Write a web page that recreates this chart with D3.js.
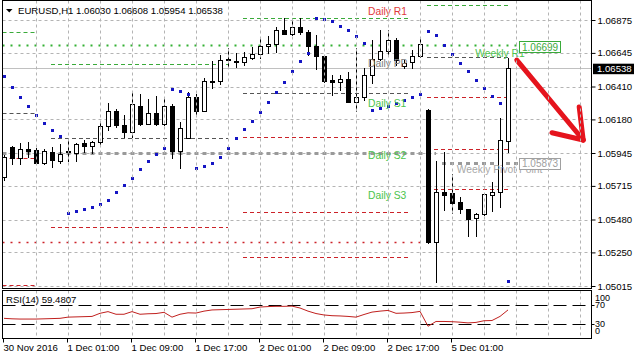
<!DOCTYPE html>
<html>
<head>
<meta charset="utf-8">
<title>EURUSD H1</title>
<script src="https://cdn.jsdelivr.net/npm/d3@7/dist/d3.min.js"></script>
<style>
  body { margin: 0; background: #fff; }
  svg { display: block; font-family: "Liberation Sans", Arial, sans-serif; }
</style>
</head>
<body>
<div id="chart"></div>
<script>
// H1 bars, 30 Nov 17:00 .. 5 Dec 08:00
var opens = [1.05777,1.05987,1.05910,1.05973,1.05966,1.05875,1.05952,1.05889,1.05952,1.05945,
  1.06015,1.05994,1.06022,1.06134,1.06239,1.06141,1.06092,1.06274,1.06148,1.06225,
  1.06148,1.06274,1.05959,1.06050,1.06336,1.06239,1.06448,1.06448,1.06602,1.06588,
  1.06581,1.06609,1.06637,1.06693,1.06707,1.06805,1.06777,1.06826,1.06791,1.06693,
  1.06623,1.06455,1.06441,1.06462,1.06302,1.06336,1.06490,1.06602,1.06658,1.06735,
  1.06553,1.06581,1.06623,1.06246,1.05323,1.05672,1.05665,1.05602,1.05553,1.05490,
  1.05518,1.05651,1.05672,1.06030];
var highs = [1.05931,1.05994,1.06015,1.06022,1.05980,1.05973,1.05987,1.06008,1.06036,1.06015,
  1.06036,1.06029,1.06169,1.06295,1.06253,1.06211,1.06371,1.06357,1.06322,1.06343,
  1.06322,1.06288,1.06162,1.06371,1.06357,1.06469,1.06588,1.06630,1.06679,1.06644,
  1.06651,1.06686,1.06756,1.06763,1.06826,1.06889,1.06875,1.06889,1.06805,1.06770,
  1.06630,1.06490,1.06490,1.06511,1.06679,1.06539,1.06735,1.06805,1.06805,1.06749,
  1.06595,1.06665,1.06749,1.06253,1.05889,1.05952,1.05798,1.05637,1.05553,1.05525,
  1.05658,1.05742,1.06190,1.06608];
var lows = [1.05756,1.05868,1.05868,1.05917,1.05868,1.05868,1.05847,1.05875,1.05889,1.05889,
  1.05952,1.05945,1.06001,1.06106,1.06127,1.06057,1.06057,1.06141,1.06148,1.06141,
  1.06141,1.05910,1.05840,1.06050,1.06211,1.06239,1.06399,1.06427,1.06546,1.06546,
  1.06560,1.06602,1.06609,1.06644,1.06651,1.06777,1.06770,1.06777,1.06630,1.06532,
  1.06441,1.06350,1.06385,1.06302,1.06239,1.06315,1.06434,1.06595,1.06630,1.06560,
  1.06539,1.06539,1.06616,1.05316,1.05043,1.05546,1.05525,1.05525,1.05364,1.05364,
  1.05511,1.05539,1.05567,1.05954];
var closes = [1.05917,1.05910,1.05973,1.05959,1.05875,1.05959,1.05896,1.05938,1.05959,1.06008,
  1.05994,1.06022,1.06134,1.06239,1.06141,1.06092,1.06288,1.06148,1.06225,1.06148,
  1.06274,1.05959,1.06120,1.06336,1.06239,1.06448,1.06441,1.06595,1.06595,1.06581,
  1.06616,1.06637,1.06693,1.06707,1.06805,1.06777,1.06826,1.06791,1.06693,1.06623,
  1.06448,1.06441,1.06462,1.06302,1.06336,1.06490,1.06602,1.06658,1.06735,1.06595,
  1.06574,1.06623,1.06707,1.05323,1.05672,1.05651,1.05595,1.05553,1.05483,1.05518,
  1.05658,1.05672,1.06036,1.06538];

// parabolic SAR
var sar = [1.06483,1.06406,1.06337,1.06274,1.06211,1.06155,1.06106,1.06064,1.05525,1.05539,
  1.05553,1.05567,1.05588,1.05616,1.05672,1.05721,1.05770,1.05833,1.05889,1.05938,
  1.05980,1.06392,1.06378,1.06357,1.05840,1.05854,1.05875,1.05917,1.05980,1.06050,
  1.06113,1.06169,1.06232,1.06302,1.06371,1.06441,1.06518,1.06588,1.06644,1.06889,
  1.06882,1.06868,1.06833,1.06805,1.06763,1.06714,1.06246,1.06260,1.06274,1.06295,
  1.06316,1.06337,1.06357,1.06798,1.06770,1.06700,1.06637,1.06574,1.06518,1.06455,
  1.06399,1.06344,1.06295,1.05050];

// RSI(14)
var rsi = [42,41,40.5,40.5,40.5,41,41.5,42,44.5,45,
  45.5,46,52.5,56,50.5,50.5,56,50.5,51.5,52,
  54.5,44.5,50.5,53.5,53,57,59.5,60,60.5,61,
  61.5,62,65.5,66.5,67,67,67.5,63.5,57,52,
  49,47.5,47,46,44.5,50,55,57,58.5,52.5,
  53,54,56.5,25.5,35.5,35.5,35,34,32.5,33.5,
  37,37.5,46,59.4807];
var rsiLevels = [70, 30];
var rsiTicks = [100, 70, 30, 0];

var priceTicks = [1.06875,1.06645,1.06410,1.06180,1.05945,1.05715,1.05480,1.05250,1.05015];
var timeLabelBars = [0, 8, 16, 24, 32, 40, 48, 56];
var timeLabels = ["30 Nov 2016","1 Dec 01:00","1 Dec 09:00","1 Dec 17:00",
  "2 Dec 01:00","2 Dec 09:00","2 Dec 17:00","5 Dec 01:00"];

// daily pivots: bar range and levels
var dayFrom = [0, 6, 30, 53];
var dayTo   = [4, 28, 50.5, 63];
var dayR1 = [1.06791, 1.06567, 1.06889, 1.06980];
var dayPP = [1.06225, 1.06050, 1.06364, 1.06616];
var dayS1 = [1.05910, 1.05427, 1.06057, 1.06337];
var dayS2 = [1.05022, null, 1.05532, 1.05973];
var dayS3 = [null, null, 1.05218, 1.05693];

// weekly levels
var weekR1 = 1.06699;
var weekPivot = 1.05873;
var prevWeekPivot = 1.05945;
var prevWeekS1 = 1.05323;

var W = 634, H = 359;
var svg = d3.select("#chart").append("svg").attr("width", W).attr("height", H);

var x = d3.scaleLinear().domain([0, 73.5]).range([4, 592]);
var y = d3.scaleLinear().domain([1.05015, 1.06875]).range([286, 20]);
var yr = d3.scaleLinear().domain([0, 100]).range([338.5, 290.5]);

var L = 2.5, R = 591.5, mainTop = 0.5, mainBot = 288.5, rsiTop = 290.5, rsiBot = 338.5;

svg.append("defs").append("clipPath").attr("id", "mainclip")
  .append("rect").attr("x", 3).attr("y", 1).attr("width", R - 3).attr("height", mainBot - 1);

var main = svg.append("g").attr("clip-path", "url(#mainclip)");

// grid
var gridBars = d3.range(4, 73, 4);
var gridColor = "#b4b4b4";
main.selectAll(".hgrid").data(priceTicks).enter().append("line")
  .attr("x1", L).attr("x2", R)
  .attr("y1", function(d){ return Math.round(y(d)) + 0.5; })
  .attr("y2", function(d){ return Math.round(y(d)) + 0.5; })
  .attr("stroke", gridColor).attr("stroke-dasharray", "3,3");
svg.selectAll(".vgrid").data(gridBars).enter().append("line")
  .attr("x1", function(d){ return x(d) + 0.5; }).attr("x2", function(d){ return x(d) + 0.5; })
  .attr("y1", mainTop).attr("y2", mainBot)
  .attr("stroke", gridColor).attr("stroke-dasharray", "3,3");
svg.selectAll(".vgrid2").data(gridBars).enter().append("line")
  .attr("x1", function(d){ return x(d) + 0.5; }).attr("x2", function(d){ return x(d) + 0.5; })
  .attr("y1", rsiTop).attr("y2", rsiBot)
  .attr("stroke", gridColor).attr("stroke-dasharray", "3,3");

// daily pivot segments
var green = "#3aaa3a", red = "#cc2229", dgray = "#555555";
var dayLines = [];
dayFrom.forEach(function(f, i) {
  [[dayR1, green], [dayPP, dgray], [dayS1, red], [dayS2, red], [dayS3, red]].forEach(function(s) {
    if (s[0][i] != null) dayLines.push({ from: f, to: dayTo[i], v: s[0][i], c: s[1] });
  });
});
main.selectAll(".day").data(dayLines).enter().append("line")
  .attr("x1", function(d){ return d.from === 0 ? L : x(d.from) - 1; })
  .attr("x2", function(d){ return x(d.to); })
  .attr("y1", function(d){ return Math.round(y(d.v)) + 0.5; })
  .attr("y2", function(d){ return Math.round(y(d.v)) + 0.5; })
  .attr("stroke", function(d){ return d.c; }).attr("stroke-dasharray", "4,3");

// weekly levels
function hline(v, from, to, color, width, dash) {
  main.append("line")
    .attr("x1", from).attr("x2", to)
    .attr("y1", Math.round(y(v)) + 0.5).attr("y2", Math.round(y(v)) + 0.5)
    .attr("stroke", color).attr("stroke-width", width).attr("stroke-dasharray", dash);
}
hline(prevWeekPivot, L, x(54), "#9a9a9a", 3, "4,4");
hline(weekPivot, x(54.75), x(63) + 11, "#9a9a9a", 3, "4,4");
hline(prevWeekS1, L, x(52), "#cc2229", 1.5, "2,6");
hline(weekR1, L, x(63) + 11, "#33b033", 2, "2,6");

// current price line
main.append("line").attr("x1", L).attr("x2", R)
  .attr("y1", Math.round(y(closes[63])) + 0.5).attr("y2", Math.round(y(closes[63])) + 0.5)
  .attr("stroke", "#c0c0c0");

// candles
var idx = d3.range(opens.length);
main.selectAll(".wick").data(idx).enter().append("line")
  .attr("x1", function(i){ return x(i) + 0.5; }).attr("x2", function(i){ return x(i) + 0.5; })
  .attr("y1", function(i){ return Math.round(y(highs[i])); })
  .attr("y2", function(i){ return Math.round(y(lows[i])) + 1; })
  .attr("stroke", "#000");
main.selectAll(".body").data(idx).enter().append("rect")
  .attr("x", function(i){ return x(i) - 1.5; })
  .attr("width", 4)
  .attr("y", function(i){ return Math.round(y(Math.max(opens[i], closes[i]))) + 0.5; })
  .attr("height", function(i){
    return Math.max(0, Math.round(y(Math.min(opens[i], closes[i]))) - Math.round(y(Math.max(opens[i], closes[i]))));
  })
  .attr("fill", function(i){ return closes[i] >= opens[i] ? "#fff" : "#000"; })
  .attr("stroke", "#000");

// parabolic SAR
main.selectAll(".sar").data(sar).enter().append("rect")
  .attr("x", function(d, i){ return x(i) - 1; })
  .attr("y", function(d){ return Math.round(y(d)) - 1; })
  .attr("width", 3).attr("height", 3)
  .attr("fill", "#1515c4");

// labels for daily levels
var dl = [["Daily R1", dayR1[3], "#e03a3a"], ["Daily PP", dayPP[3], "#808080"],
  ["Daily S1", dayS1[3], "#4cc44c"], ["Daily S2", dayS2[3], "#4cc44c"], ["Daily S3", dayS3[3], "#4cc44c"]];
main.selectAll(".dlab").data(dl).enter().append("text")
  .attr("x", x(45.5)).attr("y", function(d){ return y(d[1]) + 10; })
  .attr("font-size", "10.3px").attr("fill", function(d){ return d[2]; })
  .text(function(d){ return d[0]; });

main.append("text").attr("x", x(58.9)).attr("y", y(weekR1) + 11.5)
  .attr("font-size", "10.3px").attr("fill", "#4cc44c").text("Weekly R1");
main.append("text").attr("x", x(56.6)).attr("y", y(weekPivot) + 10.2)
  .attr("font-size", "10.3px").attr("fill", "#a8a8a8").text("Weekly Pivot Point");

function priceBox(v, color, dy) {
  var yc = y(v) + dy;
  main.append("rect").attr("x", x(63) + 11.5).attr("y", Math.round(yc - 5.5) + 0.5)
    .attr("width", 41).attr("height", 11).attr("fill", "#fff").attr("stroke", color);
  main.append("text").attr("x", x(63) + 14).attr("y", yc + 4)
    .attr("font-size", "10px").attr("fill", color).text(d3.format(".5f")(v));
}
priceBox(weekR1, "#3aaa3a", 1.5);
priceBox(weekPivot, "#a0a0a0", 0);

// hand drawn arrow
var arrow = [[64.1, 1.06595], [72.4, 1.06036]];
var arrowArms = [[[68.5, 1.06087], [72.4, 1.06036]], [[71.9, 1.06267], [72.4, 1.06036]]];
var pline = d3.line().x(function(d){ return x(d[0]); }).y(function(d){ return y(d[1]); });
[arrow].concat(arrowArms).forEach(function(a) {
  main.append("path").attr("d", pline(a)).attr("fill", "none")
    .attr("stroke", "#e5141d").attr("stroke-width", 5)
    .attr("stroke-linecap", "round").attr("stroke-linejoin", "round");
});

// title
svg.append("path").attr("d", "M6,9L12.5,9L9.25,12.5Z").attr("fill", "#000");
svg.append("text").attr("x", 18).attr("y", 14).attr("font-size", "9.6px").attr("fill", "#000")
  .text("EURUSD,H1  " + [opens[63], highs[63], lows[63], closes[63]].map(d3.format(".5f")).join(" "));

// RSI panel
var rg = svg.append("g");
rg.selectAll(".lvl").data(rsiLevels).enter().append("line")
  .attr("x1", L).attr("x2", R)
  .attr("y1", function(d){ return Math.round(yr(d)) + 0.5; })
  .attr("y2", function(d){ return Math.round(yr(d)) + 0.5; })
  .attr("stroke", "#000").attr("stroke-dasharray", "13,6");
rg.append("path").datum(rsi)
  .attr("d", d3.line().x(function(d, i){ return x(i); }).y(function(d){ return yr(d); }))
  .attr("fill", "none").attr("stroke", "#c0201e").attr("stroke-width", 1);
rg.append("text").attr("x", 6).attr("y", 302.5).attr("font-size", "9.6px").attr("fill", "#000")
  .text("RSI(14) " + d3.format(".4f")(rsi[rsi.length - 1]));

// frames
svg.append("rect").attr("x", L).attr("y", mainTop).attr("width", R - L).attr("height", mainBot - mainTop)
  .attr("fill", "none").attr("stroke", "#000");
svg.append("rect").attr("x", L).attr("y", rsiTop).attr("width", R - L).attr("height", rsiBot - rsiTop)
  .attr("fill", "none").attr("stroke", "#000");

// price axis
var ya = svg.append("g").attr("transform", "translate(" + R + ",0)")
  .call(d3.axisRight(y).tickValues(priceTicks).tickSize(4).tickSizeOuter(0).tickFormat(d3.format(".5f")));
ya.select(".domain").remove();
ya.selectAll("text").attr("font-size", "9.6px").attr("font-family", "Liberation Sans, Arial, sans-serif").attr("x", 6);

// current price tag
var cy = y(closes[63]);
svg.append("rect").attr("x", 593).attr("y", cy - 4.5).attr("width", 41).attr("height", 10.5).attr("fill", "#000");
svg.append("text").attr("x", 597).attr("y", cy + 4).attr("font-size", "9.6px").attr("fill", "#fff")
  .text(d3.format(".5f")(closes[63]));

// RSI scale labels (top and bottom ones pulled inside the panel)
var rsiDy = { 100: 6.5, 70: 0, 30: -1, 0: -8 };
svg.selectAll(".rt").data(rsiTicks).enter().append("text")
  .attr("x", 595).attr("y", function(d){ return yr(d) + rsiDy[d] + 3.5; })
  .attr("font-size", "9px").attr("fill", "#000").text(function(d){ return d; });
svg.selectAll(".rtk").data(rsiLevels).enter().append("line")
  .attr("x1", R).attr("x2", R + 3)
  .attr("y1", function(d){ return Math.round(yr(d)) + 0.5; })
  .attr("y2", function(d){ return Math.round(yr(d)) + 0.5; })
  .attr("stroke", "#000");

// time axis
var xa = svg.append("g").attr("transform", "translate(0," + rsiBot + ")")
  .call(d3.axisBottom(x).tickValues(timeLabelBars).tickSize(4).tickSizeOuter(0)
    .tickFormat(function(d, i){ return timeLabels[i]; }));
xa.select(".domain").remove();
xa.selectAll(".tick line").attr("transform", "translate(-1,0)");
xa.selectAll("text").attr("font-size", "9.6px").attr("font-family", "Liberation Sans, Arial, sans-serif")
  .attr("text-anchor", "start").attr("x", -1).attr("y", 6).attr("dy", "0.71em");
</script>
</body>
</html>
